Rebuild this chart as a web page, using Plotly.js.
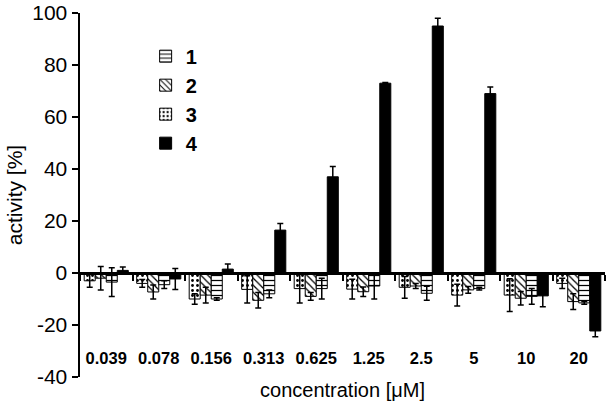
<!DOCTYPE html>
<html>
<head>
<meta charset="utf-8">
<script src="https://cdn.plot.ly/plotly-3.0.1.min.js"></script>
<style>html,body{margin:0;padding:0;background:#fff;}#chart{width:612px;height:408px;}</style>
</head>
<body>
<div id="chart"></div>
<script>
const categories = ['0.039','0.078','0.156','0.313','0.625','1.25','2.5','5','10','20'];
const s1 = [-3.5, -4.5, -10, -8, -6, -5, -7.8, -6, -9, -11.5];
const s1err = [5.5, 1.5, 0.5, 1.5, 4, 5, 2.7, 0.5, 3, 0.5];
const s2 = [-2, -7.3, -8.5, -10.5, -9, -7.2, -5, -6.5, -9.7, -11];
const s2err = [4.5, 2.7, 3, 3, 1.5, 1.8, 1, 1.3, 2.6, 3];
const s3 = [-3, -4, -10, -6.3, -6, -6.2, -5.5, -8.5, -8.5, -4];
const s3err = [2.5, 1.5, 2, 5.2, 5.5, 3.8, 4.2, 4.2, 6.3, 2];
const s4 = [1, -2.3, 1.5, 16.5, 37, 73, 95, 69, -8.8, -22.3];
const s4err = [1.3, 4, 2, 2.5, 4, 0.3, 3, 2.5, 4.2, 2.2];
const names = ['1','2','3','4'];
const yTickVals = [-40, -20, 0, 20, 40, 60, 80, 100];
const yTickText = ['-40', '-20', '0', '20', '40', '60', '80', '100'];

function bar(name, y, err, shape, rank){
  return {
    type:'bar', name:name, x:categories, y:y, legendrank:rank,
    marker:{color:'#fff', line:{color:'#000', width:1},
      pattern: shape==='solid' ? {shape:''} : {shape:shape, fgcolor:'#000', bgcolor:'#fff', size:5, solidity:0.25}},
    error_y:{type:'data', array:err, visible:true, color:'#000', thickness:1.5, width:3}
  };
}
const t3 = bar(names[2], s3, s3err, '.', 3);
const t2 = bar(names[1], s2, s2err, '\\', 2);
const t1 = bar(names[0], s1, s1err, '-', 1);
const t4 = bar(names[3], s4, s4err, 'solid', 4);
t4.marker.color = '#000';
const data = [t3, t2, t1, t4];

const layout = {
  width:612, height:408,
  margin:{l:80, r:7, t:13, b:31},
  paper_bgcolor:'#fff', plot_bgcolor:'#fff',
  font:{family:'Liberation Sans, Arial, sans-serif', color:'#000'},
  barmode:'group', bargap:0.16, bargroupgap:0,
  showlegend:true,
  legend:{x:0.125, y:0.935, xanchor:'left', yanchor:'top', bgcolor:'rgba(0,0,0,0)',
    font:{size:20, weight:'bold'}, itemwidth:30, tracegroupgap:0, traceorder:'normal'},
  xaxis:{type:'category', anchor:'free', position:40/140, range:[-0.5,9.5],
    showline:true, linewidth:2.5, linecolor:'#000',
    ticks:'outside', tickson:'boundaries', ticklen:6, tickwidth:2, tickcolor:'#000',
    showgrid:false, zeroline:false, tickangle:0,
    tickfont:{size:16.5, weight:'bold'}, ticklabelstandoff:70,
    title:{text:'concentration [μM]', font:{size:20}, standoff:16}},
  yaxis:{range:[-40,100], tickmode:'array', tickvals:yTickVals, ticktext:yTickText,
    showline:true, linewidth:2.5, linecolor:'#000',
    ticks:'outside', ticklen:6, tickwidth:2, tickcolor:'#000',
    showgrid:false, zeroline:false, tickfont:{size:21},
    title:{text:'activity [%]', font:{size:21}, standoff:4}}
};
Plotly.newPlot('chart', data, layout, {displayModeBar:false, staticPlot:true});
</script>
</body>
</html>
